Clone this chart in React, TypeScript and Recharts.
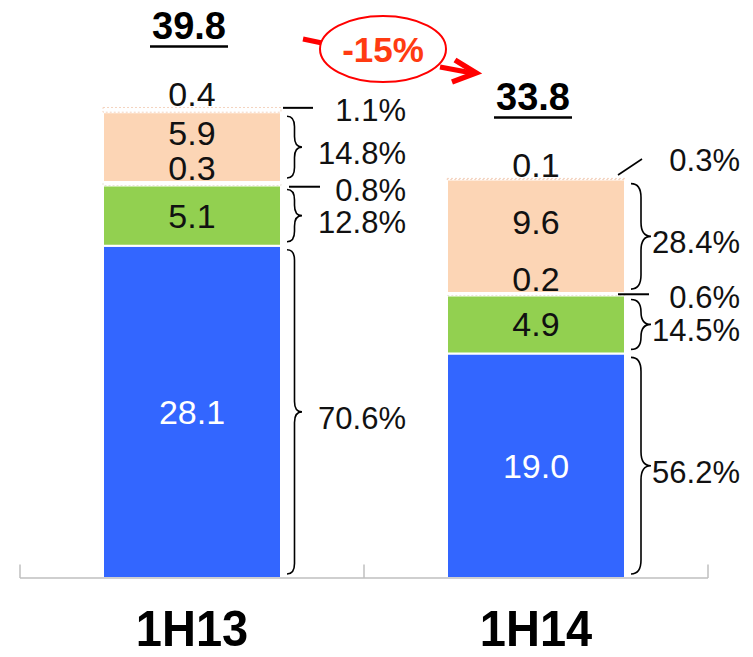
import { BarChart, Bar, XAxis, YAxis, LabelList, ReferenceLine } from "recharts";

// values in the stack, bottom to top
const categories = ["1H13", "1H14"];
const baseValues = [28.1, 19.0];
const midValues = [5.1, 4.9];
const lowGapValues = [0.3, 0.2];
const upperValues = [5.9, 9.6];
const topGapValues = [0.4, 0.1];
const totals = ["39.8", "33.8"];

// share of total for each block
const basePct = ["70.6%", "56.2%"];
const midPct = ["12.8%", "14.5%"];
const lowGapPct = ["0.8%", "0.6%"];
const upperPct = ["14.8%", "28.4%"];
const topGapPct = ["1.1%", "0.3%"];

const changeLabel = "-15%";

const data = categories.map((name, i) => ({
  name,
  base: baseValues[i],
  mid: midValues[i],
  lowGap: lowGapValues[i],
  upper: upperValues[i],
  topGap: topGapValues[i],
  total: totals[i],
  basePct: basePct[i],
  midPct: midPct[i],
  lowGapPct: lowGapPct[i],
  upperPct: upperPct[i],
  topGapPct: topGapPct[i],
}));

const FONT = "'Liberation Sans', Arial, sans-serif";
const pctRight = [125, 115];
const AXIS_GREY = "#bfbfbf";

function box(props: any) {
  const x = Number(props.x);
  const w = Number(props.width);
  const y0 = Number(props.y);
  const h = Number(props.height);
  const top = Math.min(y0, y0 + h);
  const bot = Math.max(y0, y0 + h);
  return { x, w, top, bot, mid: (top + bot) / 2, i: props.index ?? 0 };
}

function valueLabel(mode: "center" | "above", shift: number, color = "#111") {
  return (props: any) => {
    const { x, w, top, mid } = box(props);
    const cy = mode === "center" ? mid + shift : top + shift;
    return (
      <text
        x={x + w / 2}
        y={cy + 12}
        textAnchor="middle"
        fontSize={34}
        fontFamily={FONT}
        fill={color}
      >
        {Number(props.value).toFixed(1)}
      </text>
    );
  };
}

function bracePath(x: number, y0: number, y1: number, w: number) {
  const m = (y0 + y1) / 2;
  const h = w / 2;
  const r = Math.min(h * 1.4, (y1 - y0) / 4);
  return (
    `M${x},${y0} Q${x + h},${y0} ${x + h},${y0 + r} ` +
    `L${x + h},${m - r} Q${x + h},${m} ${x + w},${m} ` +
    `Q${x + h},${m} ${x + h},${m + r} ` +
    `L${x + h},${y1 - r} Q${x + h},${y1} ${x},${y1}`
  );
}

const braceLabel = (props: any) => {
  const { x, w, top, bot, mid, i } = box(props);
  const bx = x + w + 6;
  const bw = i === 0 ? 15 : 20;
  return (
    <g>
      <path d={bracePath(bx, top + 4, bot - 4, bw)} fill="none" stroke="#000" strokeWidth={1.6} />
      <text x={x + w + pctRight[i]} y={mid + 17} textAnchor="end" fontSize={31} fontFamily={FONT} fill="#111">
        {props.value}
      </text>
    </g>
  );
};

const lowGapLabel = (props: any) => {
  const { x, w, mid, i } = box(props);
  const lx = i === 0 ? x + w + 8 : x + w - 7;
  const ly = i === 0 ? mid + 3 : mid;
  return (
    <g>
      <line x1={lx} y1={ly} x2={lx + 31} y2={ly} stroke="#000" strokeWidth={2} />
      <text x={x + w + pctRight[i]} y={ly + 14} textAnchor="end" fontSize={31} fontFamily={FONT} fill="#111">
        {props.value}
      </text>
    </g>
  );
};

const topGapLabel = (props: any) => {
  const { x, w, mid, i } = box(props);
  if (i === 0) {
    return (
      <g>
        <line x1={x + w + 2} y1={mid - 2} x2={x + w + 32} y2={mid - 2} stroke="#000" strokeWidth={2} />
        <text x={x + w + pctRight[i]} y={mid + 11} textAnchor="end" fontSize={31} fontFamily={FONT} fill="#111">
          {props.value}
        </text>
      </g>
    );
  }
  return (
    <g>
      <line x1={x + w - 7} y1={mid - 4} x2={x + w + 17} y2={mid - 20} stroke="#000" strokeWidth={1.6} />
      <text x={x + w + pctRight[i]} y={mid - 8} textAnchor="end" fontSize={31} fontFamily={FONT} fill="#111">
        {props.value}
      </text>
    </g>
  );
};

const totalLabel = (props: any) => {
  const { x, w, top } = box(props);
  const cx = x + w / 2 - 3;
  const by = top - 68;
  return (
    <g>
      <text x={cx} y={by} textAnchor="middle" fontSize={38} fontWeight="bold" fontFamily={FONT} fill="#000">
        {props.value}
      </text>
      <line x1={cx - 39} y1={by + 7} x2={cx + 39} y2={by + 7} stroke="#000" strokeWidth={2.5} />
    </g>
  );
};

const CategoryTick = (props: any) => {
  const { x, y, payload } = props;
  return (
    <text
      transform={`translate(${x},${y + 60}) scale(1,1.06)`}
      textAnchor="middle"
      fontSize={47}
      fontWeight="bold"
      fontFamily={FONT}
      fill="#000"
    >
      {payload.value}
    </text>
  );
};

function ChangeBadge() {
  return (
    <g>
      <line x1={303} y1={39} x2={322} y2={43} stroke="#ff0000" strokeWidth={5} />
      <line x1={440} y1={67} x2={472} y2={73} stroke="#ff0000" strokeWidth={5} />
      <polyline points="455,60 476,73 452,82" fill="none" stroke="#ff0000" strokeWidth={5.5} strokeLinejoin="miter" />
      <ellipse cx={383} cy={49} rx={63} ry={33} fill="#fff" stroke="#ff0000" strokeWidth={2} />
      <text x={383} y={62} textAnchor="middle" fontSize={35} fontWeight="bold" fontFamily={FONT} fill="#ff3b12">
        {changeLabel}
      </text>
    </g>
  );
}

// small upward ticks on the category boundaries, as in the source slide
const boundaryTicks: [string, "start" | "end"][] = [
  ["1H13", "start"],
  ["1H14", "start"],
  ["1H14", "end"],
];

export default function App() {
  return (
    <div style={{ position: "absolute", left: 0, top: 0, width: 753, height: 657, background: "#fff" }}>
      <BarChart
        width={753}
        height={657}
        data={data}
        margin={{ top: 46, right: 45, left: 20, bottom: 0 }}
        barSize={178}
      >
        <XAxis
          dataKey="name"
          height={79}
          axisLine={false}
          tickLine={false}
          tick={<CategoryTick />}
          interval={0}
        />
        <YAxis hide domain={[0, 45]} />
        <ReferenceLine y={0} stroke={AXIS_GREY} strokeWidth={1.5} />
        {boundaryTicks.map(([cat, pos], k) => (
          <ReferenceLine
            key={k}
            segment={[
              { x: cat, y: 0 },
              { x: cat, y: 1.15 },
            ]}
            position={pos}
            stroke={AXIS_GREY}
            strokeWidth={1.5}
          />
        ))}
        <Bar dataKey="base" stackId="a" fill="#3366ff" stroke="#fff" strokeWidth={2} isAnimationActive={false}>
          <LabelList dataKey="base" content={valueLabel("center", 0, "#fff")} />
          <LabelList dataKey="basePct" content={braceLabel} />
        </Bar>
        <Bar dataKey="mid" stackId="a" fill="#92d050" stroke="#fff" strokeWidth={2} isAnimationActive={false}>
          <LabelList dataKey="mid" content={valueLabel("center", 0)} />
          <LabelList dataKey="midPct" content={braceLabel} />
        </Bar>
        <Bar
          dataKey="lowGap"
          stackId="a"
          fill="#ffffff"
          stroke="#e8e3d8"
          strokeDasharray="2 2"
          strokeWidth={1}
          isAnimationActive={false}
        >
          <LabelList dataKey="lowGap" content={valueLabel("above", -14)} />
          <LabelList dataKey="lowGapPct" content={lowGapLabel} />
        </Bar>
        <Bar dataKey="upper" stackId="a" fill="#fcd5b5" stroke="#fff" strokeWidth={2} isAnimationActive={false}>
          <LabelList dataKey="upper" content={valueLabel("center", -14)} />
          <LabelList dataKey="upperPct" content={braceLabel} />
        </Bar>
        <Bar
          dataKey="topGap"
          stackId="a"
          fill="#ffffff"
          stroke="#f4d3bf"
          strokeDasharray="2 2"
          strokeWidth={1}
          isAnimationActive={false}
        >
          <LabelList dataKey="topGap" content={valueLabel("above", -13)} />
          <LabelList dataKey="topGapPct" content={topGapLabel} />
          <LabelList dataKey="total" content={totalLabel} />
        </Bar>
        <ChangeBadge />
      </BarChart>
    </div>
  );
}
